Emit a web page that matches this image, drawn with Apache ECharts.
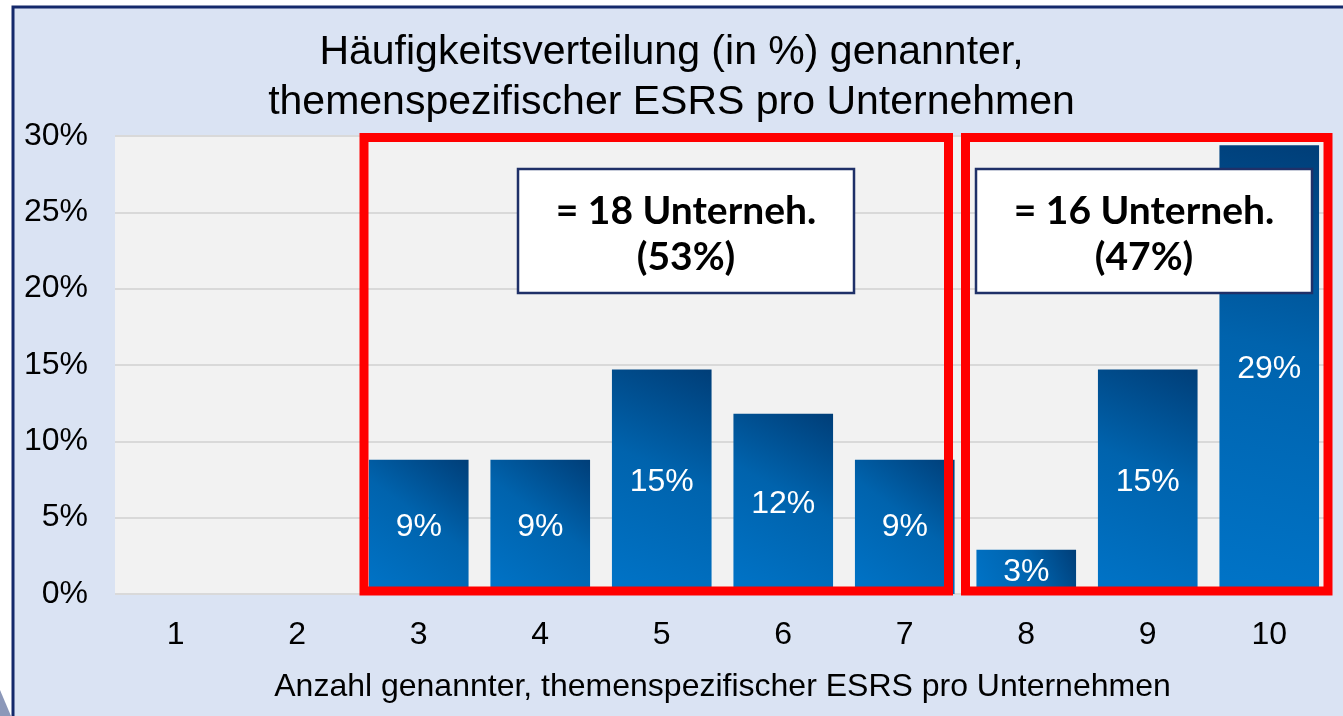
<!DOCTYPE html>
<html lang="de" style="height: 100%">
<head>
    <meta charset="UTF-8">
    <title>ESRS pro Unternehmen</title>
    <script src="https://cdn.jsdelivr.net/npm/echarts@6/dist/echarts.min.js"></script>
</head>
<body style="height: 100%; margin: 0; background: #ffffff">
<div id="container" style="width: 1343px; height: 716px"></div>
<script type="text/javascript">
    // Daten
    var categories = ['1', '2', '3', '4', '5', '6', '7', '8', '9', '10'];
    var values = [0, 0, 8.8, 8.8, 14.7, 11.8, 8.8, 2.9, 14.7, 29.4];
    var labels = ['', '', '9%', '9%', '15%', '12%', '9%', '3%', '15%', '29%'];
    var yTicks = [0, 5, 10, 15, 20, 25, 30];
    var titleLines = ['Häufigkeitsverteilung (in %) genannter,', 'themenspezifischer ESRS pro Unternehmen'];
    var xName = 'Anzahl genannter, themenspezifischer ESRS pro Unternehmen';
    var boxTexts = [['= 18 Unterneh.', '(53%)'], ['= 16 Unterneh.', '(47%)']];

    var dom = document.getElementById('container');
    var myChart = echarts.init(dom, null, {renderer: 'canvas'});

    var barColor = new echarts.graphic.LinearGradient(0, 1, 1, 0, [
        {offset: 0, color: '#0074c8'},
        {offset: 0.55, color: '#0063ad'},
        {offset: 1, color: '#003e78'}
    ]);

    var option = {
        backgroundColor: '#ffffff',
        animation: false,
        title: {
            text: titleLines.join('\n'),
            left: 'center',
            top: 23,
            textStyle: {
                fontFamily: 'Liberation Sans',
                fontWeight: 'normal',
                fontSize: 41,
                lineHeight: 50,
                color: '#000000'
            }
        },
        grid: {
            left: 115,
            right: 13,
            top: 136,
            bottom: 122,
            show: true,
            backgroundColor: '#f2f2f2',
            borderWidth: 0
        },
        xAxis: {
            type: 'category',
            data: categories,
            name: xName,
            nameLocation: 'middle',
            nameGap: 77,
            nameTextStyle: {fontFamily: 'Liberation Sans', fontSize: 32, color: '#000000'},
            axisLine: {show: false},
            axisTick: {show: false},
            axisLabel: {fontFamily: 'Liberation Sans', fontSize: 32, color: '#000000', margin: 25}
        },
        yAxis: {
            type: 'value',
            min: yTicks[0],
            max: yTicks[yTicks.length - 1],
            interval: 5,
            axisLine: {show: false},
            axisTick: {show: false},
            axisLabel: {
                fontFamily: 'Liberation Sans', fontSize: 32, color: '#000000', margin: 27,
                formatter: '{value}%'
            },
            splitLine: {lineStyle: {color: '#d9d9d9', width: 2}}
        },
        series: [{
            type: 'bar',
            data: values,
            barCategoryGap: '18%',
            itemStyle: {color: barColor},
            label: {
                show: true,
                position: 'inside',
                fontFamily: 'Liberation Sans',
                fontSize: 32,
                color: '#ffffff',
                formatter: function (p) { return labels[p.dataIndex]; }
            }
        }]
    };

    myChart.setOption(option);

    // Rahmen und Textboxen an Achsenpositionen ausrichten
    var c3 = myChart.convertToPixel({xAxisIndex: 0}, '3');
    var c4 = myChart.convertToPixel({xAxisIndex: 0}, '4');
    var band = c4 - c3;
    var y0 = myChart.convertToPixel({yAxisIndex: 0}, 0);
    var y30 = myChart.convertToPixel({yAxisIndex: 0}, 30);
    var edge = function (i) { return c3 + (i - 2.5) * band; }; // i = Grenze nach Kategorie i

    var leftX1 = edge(2) + 6, leftX2 = edge(7) - 17;
    var rightX1 = edge(7), rightX2 = edge(10) - 2;
    var boxTop = y30 + 1.5, boxBottom = y0 - 3;

    function textBox(cx, lines) {
        return {
            type: 'group',
            z: 100,
            children: [{
                type: 'rect',
                z: 100,
                shape: {x: cx - 168, y: 169, width: 336, height: 124},
                style: {fill: '#ffffff', stroke: '#1f3068', lineWidth: 2.5}
            }, {
                type: 'text',
                z: 101,
                style: {
                    x: cx, y: 234,
                    text: lines.join('\n'),
                    align: 'center', verticalAlign: 'middle',
                    font: 'bold 39px Lato',
                    lineHeight: 46,
                    fill: '#000000'
                }
            }]
        };
    }

    myChart.setOption({
        graphic: [{
            type: 'rect',
            z: -10,
            shape: {x: 13, y: 7, width: 1400, height: 800},
            style: {fill: '#dae3f3', stroke: '#14296b', lineWidth: 3}
        }, {
            type: 'polygon',
            z: -9,
            shape: {points: [[0, 690], [11, 716], [0, 716]]},
            style: {fill: '#8c98b9'}
        }, {
            type: 'rect',
            z: 50,
            shape: {x: leftX1, y: boxTop, width: leftX2 - leftX1, height: boxBottom - boxTop},
            style: {fill: null, stroke: '#ff0000', lineWidth: 9}
        }, {
            type: 'rect',
            z: 50,
            shape: {x: rightX1, y: boxTop, width: rightX2 - rightX1, height: boxBottom - boxTop},
            style: {fill: null, stroke: '#ff0000', lineWidth: 9}
        },
            textBox(686, boxTexts[0]),
            textBox(1144, boxTexts[1])
        ]
    });
</script>
</body>
</html>
